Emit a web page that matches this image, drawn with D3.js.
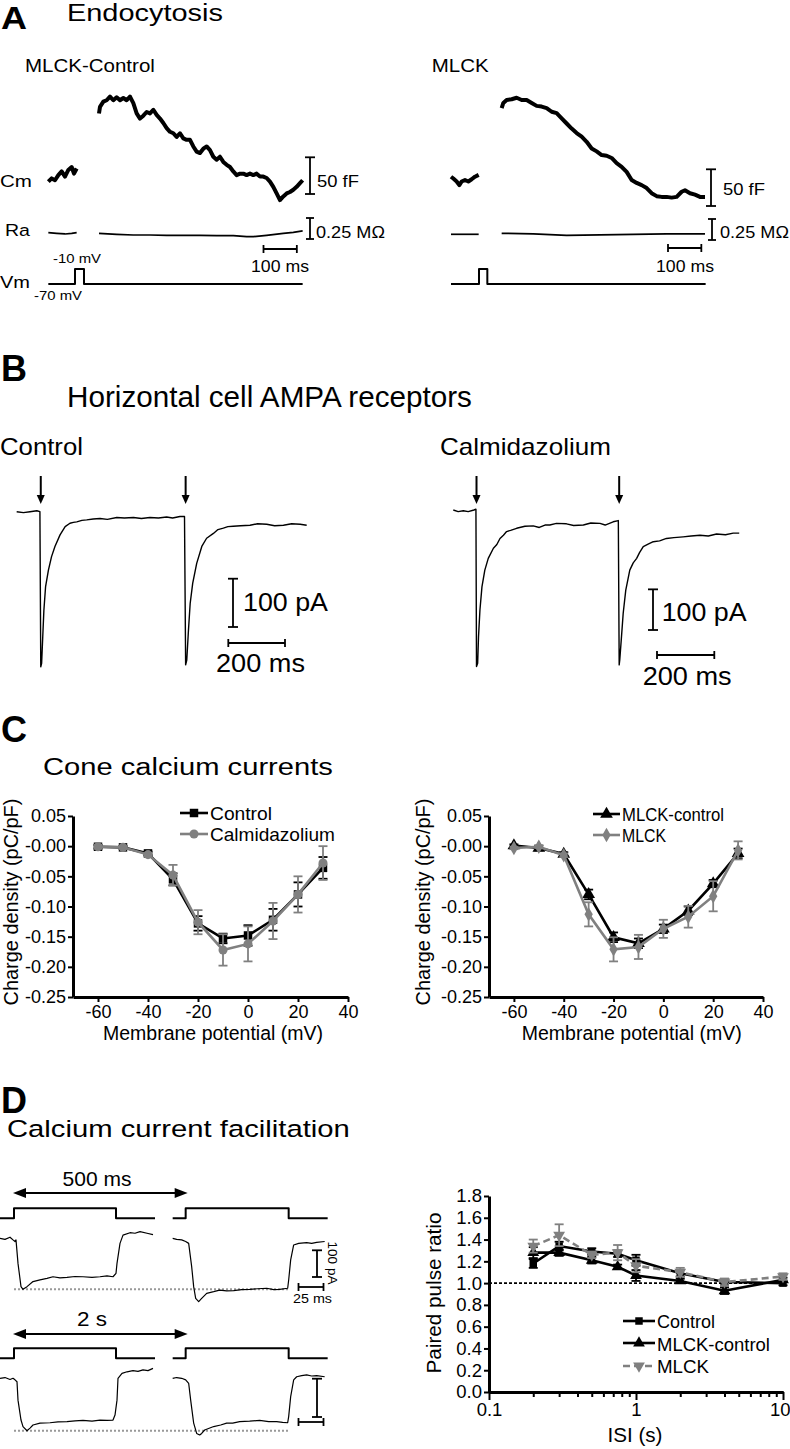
<!DOCTYPE html>
<html><head><meta charset="utf-8">
<script src="https://cdn.jsdelivr.net/npm/d3@7"></script>
<style>body{margin:0;background:#fff}svg{display:block}</style>
</head><body><svg id="fig" width="790" height="1449"></svg>
<script>
// ---------------- DATA ----------------
// Panel A: capacitance (fF), access resistance (MOhm), Vm (mV) vs time (ms)
const aCtlCmPre = [[0,0],[10,4.5],[20,2],[30,9],[40,14],[50,7],[60,16],[70,20],[77,11],[85,18]];
const aCtlCmPost = [[152,93],[155,102],[165,109],[175,111],[185,116],[195,111],[205,115],[215,111],[225,114],[235,111],[245,116],[255,107],[265,93],[275,86],[285,90],[295,95],[305,93],[315,98],[325,91],[335,86],[345,80],[355,73],[365,68],[375,66],[385,61],[395,66],[405,59],[415,57],[425,57],[435,48],[445,41],[455,39],[465,45],[475,48],[485,43],[495,34],[505,30],[515,34],[525,27],[535,23],[545,20],[555,14],[565,9],[575,11],[585,11],[595,9],[605,11],[615,9],[625,11],[635,7],[645,7],[655,5],[665,0],[675,-7],[685,-16],[695,-25],[705,-20],[715,-16],[725,-14],[735,-11],[745,-7],[755,-2],[763,2]];
const aCtlRaPre = [[0,0.008],[25,0],[50,-0.008],[70,0],[85,0.008]];
const aCtlRaPost = [[152,0],[205,-0.012],[255,-0.02],[305,-0.02],[355,-0.024],[405,-0.024],[455,-0.024],[505,-0.028],[555,-0.028],[595,-0.04],[615,-0.04],[655,-0.024],[705,0],[735,0.012],[763,0.028]];
const aCtlVm = [[0,-70],[80,-70],[80,-10],[107,-10],[107,-70],[763,-70]];
const aMlckCmPre = [[0,4.5],[7,2],[17,-2],[25,-7],[32,-2],[42,0],[52,-2],[62,1],[72,4.5],[83,7]];
const aMlckCmPost = [[152,98],[157,105],[167,109],[182,110],[197,112],[212,109],[227,109],[242,105],[257,101],[272,100],[287,98],[302,93],[317,91],[332,84],[347,77],[362,70],[377,64],[392,59],[407,52],[422,43],[437,39],[452,34],[467,33],[482,30],[497,23],[512,18],[527,11],[542,0],[557,-4],[572,-7],[587,-11],[602,-18],[617,-22],[632,-23],[647,-23],[662,-24],[677,-23],[692,-16],[702,-14],[717,-18],[732,-20],[747,-23],[762,-23]];
const aMlckRaPre = [[0,0],[83,0]];
const aMlckRaPost = [[152,0.012],[247,0.004],[347,-0.012],[447,-0.008],[547,0],[647,0.004],[762,0.004]];
const aMlckVm = [[0,-70],[84,-70],[84,-10],[109,-10],[109,-70],[764,-70]];

// Panel B: current (pA) vs time (ms)
const bControl = [[0,0],[24,-2],[47,0],[71,2],[82,0],[85,-321],[88,-314],[92,-259],[96,-204],[102,-155],[112,-121],[123,-93],[135,-72],[153,-48],[171,-31],[188,-24],[200,-22],[212,-21],[230,-18],[247,-17],[270,-15],[294,-14],[320,-16],[353,-12],[380,-13],[412,-12],[440,-14],[470,-12],[500,-13],[529,-11],[550,-13],[576,-10],[592,-10],[596,-317],[600,-307],[606,-245],[612,-190],[621,-148],[635,-107],[653,-72],[670,-55],[694,-45],[710,-37],[729,-34],[745,-31],[764,-30],[790,-29],[823,-28],[850,-25],[882,-26],[910,-29],[941,-28],[970,-25],[1000,-26],[1023,-28]];
const bCalmid = [[0,0],[17,-4],[35,-2],[52,-4],[72,0],[79,2],[81,-385],[85,-377],[88,-312],[93,-246],[100,-189],[110,-148],[122,-119],[140,-94],[152,-85],[163,-70],[175,-62],[186,-53],[200,-50],[221,-45],[250,-40],[279,-39],[300,-43],[320,-37],[337,-37],[360,-33],[395,-34],[420,-38],[454,-37],[480,-32],[512,-33],[530,-37],[558,-29],[576,-26],[579,-381],[581,-369],[587,-312],[593,-254],[602,-197],[616,-148],[628,-130],[640,-119],[650,-105],[663,-90],[680,-84],[698,-78],[720,-76],[744,-70],[770,-68],[802,-66],[830,-64],[861,-62],[890,-64],[919,-59],[950,-61],[977,-57],[998,-57]];
const bControlStim = [85, 596];
const bCalmidStim = [81, 579];

// Panel C: charge density (pC/pF) vs membrane potential (mV)
const cVoltages = [-60,-50,-40,-30,-20,-10,0,10,20,30];
const cControl = [-0.001,-0.002,-0.012,-0.055,-0.128,-0.153,-0.148,-0.122,-0.080,-0.036];
const cControlErr = [0.003,0.002,0.003,0.010,0.012,0.008,0.017,0.018,0.020,0.018];
const cCalmid = [-0.001,-0.002,-0.014,-0.048,-0.126,-0.172,-0.162,-0.124,-0.080,-0.028];
const cCalmidErr = [0.003,0.002,0.003,0.017,0.020,0.026,0.029,0.030,0.030,0.028];
const cMlckCtl = [0.001,-0.003,-0.013,-0.080,-0.151,-0.161,-0.137,-0.107,-0.062,-0.012];
const cMlckCtlErr = [0.002,0.004,0.003,0.008,0.008,0.008,0.007,0.007,0.006,0.008];
const cMlck = [-0.003,-0.001,-0.015,-0.113,-0.171,-0.167,-0.137,-0.117,-0.083,-0.007];
const cMlckErr = [0.002,0.002,0.003,0.020,0.020,0.020,0.015,0.018,0.025,0.015];
const cXTicks = [-60,-40,-20,0,20,40];
const cYTicks = [-0.25,-0.20,-0.15,-0.10,-0.05,0,0.05];
const cYTickLabels = ["-0.25","-0.20","-0.15","-0.10","-0.05","-0.00","0.05"];

// Panel D traces: current (pA) and command (mV) vs time (ms)
const d500First = [[0,0],[5,-4],[10,4],[13,-6],[15,-12],[16,-6],[18,-94],[21,-181],[23,-191],[27,-181],[33,-162],[40,-156],[47,-150],[53,-144],[60,-148],[67,-146],[75,-143],[83,-144],[92,-146],[100,-144],[107,-141],[113,-144],[116,-131],[117,-94],[120,-19],[123,12],[130,21],[135,19],[140,25],[147,19],[153,14]];
const d500Second = [[0,0],[4,-4],[9,-6],[13,-12],[16,-19],[19,-106],[21,-181],[23,-225],[26,-237],[29,-225],[34,-206],[41,-200],[47,-194],[54,-197],[61,-196],[69,-192],[77,-191],[85,-189],[94,-187],[101,-192],[107,-191],[115,-187],[116,-156],[118,-81],[121,-25],[126,-19],[134,-16],[139,-19],[144,-15],[152,-12]];
const d2sFirst = [[0,0],[5,2],[10,-3],[13,0],[15,-4],[17,-9],[18,-57],[21,-109],[23,-126],[27,-137],[30,-130],[33,-122],[40,-117],[50,-116],[58,-114],[67,-113],[75,-111],[83,-110],[92,-112],[100,-109],[107,-110],[113,-109],[115,-96],[117,-57],[118,0],[122,13],[127,17],[133,20],[138,18],[143,22],[148,20],[153,26]];
const d2sSecond = [[0,0],[4,2],[9,0],[13,-4],[16,-13],[18,-57],[21,-117],[24,-144],[27,-148],[29,-144],[32,-135],[41,-126],[48,-122],[54,-117],[60,-117],[67,-113],[77,-112],[87,-110],[96,-113],[104,-113],[110,-115],[115,-116],[116,-100],[118,-48],[121,-4],[124,4],[129,7],[134,9],[139,6],[144,7],[152,4]];
const dStepFirst = [[0,-70],[14,-70],[14,-10],[116,-10],[116,-70],[155,-70]];
const dStepSecond = [[0,-70],[13,-70],[13,-10],[116,-10],[116,-70],[155,-70]];

// Panel D plot: paired pulse ratio vs ISI (s)
const isi = [0.2,0.3,0.5,0.75,1,2,4,10];
const ppControl = [1.18,1.34,1.29,1.27,1.21,1.09,1.01,1.00];
const ppControlErr = [0.04,0.04,0.03,0.03,0.05,0.03,0.03,0.02];
const ppMlckCtl = [1.28,1.28,1.21,1.15,1.07,1.02,0.93,1.03];
const ppMlckCtlErr = [0.05,0.03,0.03,0.02,0.05,0.02,0.03,0.02];
const ppMlck = [1.34,1.44,1.26,1.28,1.16,1.10,1.01,1.06];
const ppMlckErr = [0.06,0.10,0.03,0.07,0.06,0.04,0.03,0.03];
const dXTicks = [0.1,1,10];
const dXTickLabels = ["0.1","1","10"];
const dXMinor = [0.2,0.3,0.4,0.5,0.6,0.7,0.8,0.9,2,3,4,5,6,7,8,9];
const dYTicks = [0,0.2,0.4,0.6,0.8,1.0,1.2,1.4,1.6,1.8];
const dYTickLabels = ["0.0","0.2","0.4","0.6","0.8","1.0","1.2","1.4","1.6","1.8"];

// ---------------- DRAWING ----------------
const FONT = '"Liberation Sans", Arial, Helvetica, sans-serif';
const GRAY = '#808080';
const svg = d3.select('#fig').attr('font-family', FONT);

function txt(g, x, y, s, size, o = {}) {
  const t = g.append('text').attr('font-size', size).attr('font-family', FONT)
    .attr('text-anchor', o.anchor || 'start')
    .attr('font-weight', o.bold ? 'bold' : null)
    .attr('fill', o.fill || '#000').text(s);
  let sx = 1;
  if (o.w) { const L = t.node().getComputedTextLength(); if (L > 0) sx = o.w / L; }
  t.attr('transform', `translate(${x},${y})` + (o.rot ? ` rotate(${o.rot})` : '') + ` scale(${sx},1)`);
  return t;
}
function trace(g, data, xs, ys, o = {}) {
  g.append('path').datum(data)
    .attr('d', d3.line().x(d => xs(d[0])).y(d => ys(d[1])))
    .attr('fill', 'none').attr('stroke', o.color || '#000')
    .attr('stroke-width', o.sw || 1.2).attr('stroke-linejoin', 'round')
    .attr('stroke-dasharray', o.dash || null);
}
function seg(g, x1, y1, x2, y2, sw, color) {
  return g.append('line').attr('x1', x1).attr('y1', y1).attr('x2', x2).attr('y2', y2)
    .attr('stroke', color || '#000').attr('stroke-width', sw || 1.5);
}
function vbar(g, x, yBottom, len, cap, sw) {
  seg(g, x, yBottom, x, yBottom - len, sw);
  seg(g, x - cap, yBottom, x + cap, yBottom, sw);
  seg(g, x - cap, yBottom - len, x + cap, yBottom - len, sw);
}
function hbar(g, xLeft, y, len, cap, sw) {
  seg(g, xLeft, y, xLeft + len, y, sw);
  seg(g, xLeft, y - cap, xLeft, y + cap, sw);
  seg(g, xLeft + len, y - cap, xLeft + len, y + cap, sw);
}

// ===== Panel A =====
const gA = svg.append('g');
txt(gA, 1, 29, 'A', 32, { bold: true, w: 26 });
txt(gA, 67, 21, 'Endocytosis', 24.5, { w: 156 });

function panelA(o) {
  const xs = d3.scaleLinear().domain([0, 100]).range([o.x0, o.x0 + 33.33]);
  const yCm = d3.scaleLinear().domain([0, 50]).range([o.cm0, o.cm0 - 36.7]);
  const yRa = d3.scaleLinear().domain([0, 0.25]).range([o.ra0, o.ra0 - 21]);
  const yVm = d3.scaleLinear().domain([-70, -10]).range([284, 269]);
  trace(gA, o.cmPre, xs, yCm, { sw: 4 });
  trace(gA, o.cmPost, xs, yCm, { sw: 4 });
  trace(gA, o.raPre, xs, yRa, { sw: 1.7 });
  trace(gA, o.raPost, xs, yRa, { sw: 1.7 });
  trace(gA, o.vm, xs, yVm, { sw: 2 });
  vbar(gA, o.cmBarX, o.cmBarY, yCm(0) - yCm(50), 5, 1.8);
  vbar(gA, o.raBarX, o.raBarY, yRa(0) - yRa(0.25), 4, 1.8);
  hbar(gA, o.tBarX, o.tBarY, xs(100) - xs(0), 4, 1.8);
}
panelA({ x0: 48.33, cm0: 181.7, ra0: 233.3, cmPre: aCtlCmPre, cmPost: aCtlCmPost, raPre: aCtlRaPre, raPost: aCtlRaPost, vm: aCtlVm,
  cmBarX: 310, cmBarY: 194, raBarX: 310, raBarY: 239, tBarX: 263.5, tBarY: 249 });
panelA({ x0: 451, cm0: 180, ra0: 234.3, cmPre: aMlckCmPre, cmPost: aMlckCmPost, raPre: aMlckRaPre, raPost: aMlckRaPost, vm: aMlckVm,
  cmBarX: 711, cmBarY: 206, raBarX: 712, raBarY: 240, tBarX: 668, tBarY: 248 });
txt(gA, 25, 72, 'MLCK-Control', 17.5, { w: 130 });
txt(gA, 431.7, 72, 'MLCK', 17.5, { w: 57 });
txt(gA, 0, 187, 'Cm', 17, { w: 32 });
txt(gA, 5, 236, 'Ra', 17, { w: 25 });
txt(gA, 0, 288, 'Vm', 17, { w: 30 });
txt(gA, 317, 187, '50 fF', 17, { w: 42 });
txt(gA, 723, 195, '50 fF', 17, { w: 42 });
txt(gA, 316, 238, '0.25 MΩ', 16, { w: 69 });
txt(gA, 720, 238, '0.25 MΩ', 16, { w: 69 });
txt(gA, 251, 272, '100 ms', 16, { w: 58 });
txt(gA, 656, 272, '100 ms', 16, { w: 58 });
txt(gA, 53, 263, '-10 mV', 12, { w: 48 });
txt(gA, 34, 300, '-70 mV', 12, { w: 48 });

// ===== Panel B =====
const gB = svg.append('g');
txt(gB, 1, 381, 'B', 36, { bold: true });
txt(gB, 67, 407, 'Horizontal cell AMPA receptors', 29, { w: 405 });
function panelB(o) {
  const xs = d3.scaleLinear().domain([0, 200]).range([o.x0, o.x0 + o.pxPer200]);
  const ys = d3.scaleLinear().domain([0, -100]).range([o.y0, o.y0 + o.pxPer100]);
  trace(gB, o.data, xs, ys, { sw: 1.4 });
  o.stim.forEach(t => {
    const x = xs(t);
    seg(gB, x, 476, x, 496, 2);
    gB.append('path').attr('d', `M${x - 4},495 L${x + 4},495 L${x},504 Z`).attr('fill', '#000');
  });
  vbar(gB, o.vbX, o.vbY, ys(-100) - ys(0), 5, 1.8);
  hbar(gB, o.hbX, o.hbY, xs(200) - xs(0), 4, 1.8);
}
panelB({ x0: 16.67, pxPer200: 56.7, y0: 511.7, pxPer100: 48.3, data: bControl, stim: bControlStim, vbX: 233, vbY: 627, hbX: 228.3, hbY: 643 });
panelB({ x0: 453.3, pxPer200: 57.3, y0: 510, pxPer100: 40.65, data: bCalmid, stim: bCalmidStim, vbX: 653, vbY: 630, hbX: 657, hbY: 655 });
txt(gB, 0, 455, 'Control', 23, { w: 83 });
txt(gB, 440, 455, 'Calmidazolium', 23, { w: 171 });
txt(gB, 243, 610.7, '100 pA', 26.5, { w: 85 });
txt(gB, 661.7, 620.7, '100 pA', 26.5, { w: 85 });
txt(gB, 216, 671.7, '200 ms', 26, { w: 89 });
txt(gB, 642.7, 685, '200 ms', 26, { w: 89 });

// ===== Panel C =====
const gC = svg.append('g');
txt(gC, 1, 742, 'C', 36, { bold: true });
txt(gC, 43, 775, 'Cone calcium currents', 24, { w: 290 });

function styleAxis(ax, fs) {
  ax.select('.domain').attr('stroke', '#000').attr('stroke-width', 3);
  ax.selectAll('.tick line').attr('stroke', '#000').attr('stroke-width', 2);
  ax.selectAll('.tick text').attr('font-size', fs).attr('font-family', FONT).attr('fill', '#000');
}
function markers(g, xs, ys, xv, yv, type, size, color, rot) {
  const sym = d3.symbol().type(type).size(size);
  xv.forEach((x, i) => {
    g.append('path').attr('d', sym())
      .attr('transform', `translate(${xs(x)},${ys(yv[i])})` + (rot ? ` rotate(${rot})` : ''))
      .attr('fill', color);
  });
}
function errbars(g, xs, ys, xv, yv, ev, color) {
  xv.forEach((x, i) => {
    const px = xs(x), y1 = ys(yv[i] - ev[i]), y2 = ys(yv[i] + ev[i]);
    seg(g, px, y1, px, y2, 1.8, color);
    seg(g, px - 4.5, y1, px + 4.5, y1, 1.8, color);
    seg(g, px - 4.5, y2, px + 4.5, y2, 1.8, color);
  });
}
function series(g, xs, ys, xv, yv, ev, color, sym, size, rot, dash) {
  errbars(g, xs, ys, xv, yv, ev, color);
  g.append('path').datum(xv.map((x, i) => [x, yv[i]]))
    .attr('d', d3.line().x(d => xs(d[0])).y(d => ys(d[1])))
    .attr('fill', 'none').attr('stroke', color).attr('stroke-width', 2.6)
    .attr('stroke-dasharray', dash || null);
  markers(g, xs, ys, xv, yv, sym, size, color, rot);
}
function legendItem(g, x1, x2, y, color, sym, size, rot, label, tx, ty, tw, dash) {
  seg(g, x1, y, x2, y, 2.6, color).attr('stroke-dasharray', dash || null);
  g.append('path').attr('d', d3.symbol().type(sym).size(size)())
    .attr('transform', `translate(${(x1 + x2) / 2},${y})` + (rot ? ` rotate(${rot})` : '')).attr('fill', color);
  txt(g, tx, ty, label, 18, { w: tw });
}
function panelC(o) {
  const xs = d3.scaleLinear().domain([-70, 40]).range([o.x0, o.x1]);
  const ys = d3.scaleLinear().domain([-0.25, 0.05]).range([997, 816]);
  const ax = gC.append('g').attr('transform', 'translate(0,997)')
    .call(d3.axisBottom(xs).tickValues(cXTicks).tickFormat(d => d).tickSize(5).tickSizeOuter(0).tickPadding(3));
  const ay = gC.append('g').attr('transform', `translate(${o.x0},0)`)
    .call(d3.axisLeft(ys).tickValues(cYTicks).tickFormat((d, i) => cYTickLabels[i]).tickSize(5).tickSizeOuter(0).tickPadding(2));
  styleAxis(ax, 18); styleAxis(ay, 18);
  series(gC, xs, ys, cVoltages, o.s1, o.e1, '#000', o.sym1, o.size1, 0);
  series(gC, xs, ys, cVoltages, o.s2, o.e2, GRAY, o.sym2, o.size2, 0);
  txt(gC, o.ylx, 902, 'Charge density (pC/pF)', 20, { anchor: 'middle', rot: -90, w: 207 });
  txt(gC, o.xlx, 1040, 'Membrane potential (mV)', 20, { anchor: 'middle', w: 220 });
}
panelC({ x0: 73, x1: 348, s1: cControl, e1: cControlErr, s2: cCalmid, e2: cCalmidErr,
  sym1: d3.symbolSquare, size1: 72, sym2: d3.symbolCircle, size2: 64, ylx: 18, xlx: 213 });
panelC({ x0: 489, x1: 763, s1: cMlckCtl, e1: cMlckCtlErr, s2: cMlck, e2: cMlckErr,
  sym1: d3.symbolTriangle, size1: 70, sym2: d3.symbolDiamond, size2: 60, ylx: 430, xlx: 631.7 });
legendItem(gC, 180, 208, 813, '#000', d3.symbolSquare, 72, 0, 'Control', 210, 820, 62);
legendItem(gC, 180, 208, 834, GRAY, d3.symbolCircle, 64, 0, 'Calmidazolium', 210, 841, 125);
legendItem(gC, 593, 620, 814, '#000', d3.symbolTriangle, 70, 0, 'MLCK-control', 622, 821, 102);
legendItem(gC, 593, 620, 835, GRAY, d3.symbolDiamond, 60, 0, 'MLCK', 622, 842, 44);

// ===== Panel D =====
const gD = svg.append('g');
txt(gD, 1, 1113, 'D', 36, { bold: true });
txt(gD, 7, 1137, 'Calcium current facilitation', 23.5, { w: 343 });

function dblArrow(g, x1, x2, y) {
  seg(g, x1 + 10, y, x2 - 10, y, 2);
  g.append('path').attr('d', `M${x1},${y} L${x1 + 13},${y - 5} L${x1 + 13},${y + 5} Z`).attr('fill', '#000');
  g.append('path').attr('d', `M${x2},${y} L${x2 - 13},${y - 5} L${x2 - 13},${y + 5} Z`).attr('fill', '#000');
}
function pairRow(o) {
  const xF = d3.scaleLinear().domain([0, 100]).range([0, 100]);
  const xS = d3.scaleLinear().domain([0, 100]).range([172.67, 272.67]);
  const yI = d3.scaleLinear().domain([0, -100]).range([o.i0, o.i0 + o.px100]);
  const yV = d3.scaleLinear().domain([-70, -10]).range([o.v0, o.v0 - 10]);
  trace(gD, o.stepF, xF, yV, { sw: 2 });
  trace(gD, o.stepS, xS, yV, { sw: 2 });
  const minF = d3.min(o.first, d => d[1]);
  gD.append('line').attr('x1', xF(o.stepF[1][0])).attr('x2', xS(o.stepS[3][0]))
    .attr('y1', yI(minF)).attr('y2', yI(minF))
    .attr('stroke', '#999').attr('stroke-width', 2).attr('stroke-dasharray', '2,2');
  trace(gD, o.first, xF, yI, { sw: 1.2 });
  trace(gD, o.second, xS, yI, { sw: 1.2 });
  dblArrow(gD, xF(o.stepF[1][0]) - 1, xS(o.stepS[1][0]) + 2, o.arrowY);
  txt(gD, o.labX, o.labY, o.label, 20, { anchor: 'middle', w: o.labW });
  vbar(gD, 317, o.vbY, yI(-100) - yI(0), 5, 1.8);
  hbar(gD, 298.5, o.hbY, xF(25) - xF(0), 4, 1.8);
}
pairRow({ first: d500First, second: d500Second, stepF: dStepFirst, stepS: dStepSecond,
  i0: 1238.3, px100: 26.7, v0: 1218.3, arrowY: 1193, label: '500 ms', labX: 97, labY: 1186, labW: 69, vbY: 1277, hbY: 1287 });
pairRow({ first: d2sFirst, second: d2sSecond, stepF: dStepFirst, stepS: dStepSecond,
  i0: 1378.3, px100: 38.3, v0: 1358.3, arrowY: 1334, label: '2 s', labX: 92, labY: 1326, labW: 30, vbY: 1417, hbY: 1422 });
txt(gD, 328, 1263, '100 pA', 12.5, { anchor: 'middle', rot: 90, w: 43 });
txt(gD, 293, 1303, '25 ms', 13, { w: 39 });

// Paired pulse ratio plot
const xD = d3.scaleLog().domain([0.1, 10]).range([489, 783]);
const yD = d3.scaleLinear().domain([0, 1.8]).range([1392, 1196]);
gD.append('line').attr('x1', xD(0.1)).attr('x2', xD(10)).attr('y1', yD(1)).attr('y2', yD(1))
  .attr('stroke', '#000').attr('stroke-width', 1.8).attr('stroke-dasharray', '3,2');
const axDm = gD.append('g').attr('transform', 'translate(0,1392)')
  .call(d3.axisBottom(xD).tickValues(dXMinor).tickFormat('').tickSize(5).tickSizeOuter(0));
const axD = gD.append('g').attr('transform', 'translate(0,1392)')
  .call(d3.axisBottom(xD).tickValues(dXTicks).tickFormat((d, i) => dXTickLabels[i]).tickSize(8).tickSizeOuter(0).tickPadding(3));
const ayD = gD.append('g').attr('transform', 'translate(489,0)')
  .call(d3.axisLeft(yD).tickValues(dYTicks).tickFormat((d, i) => dYTickLabels[i]).tickSize(5).tickSizeOuter(0).tickPadding(2));
styleAxis(axDm, 18); styleAxis(axD, 18.5); styleAxis(ayD, 18.5);
// keep the last x label inside the page (the reference shows it at the right edge)
axD.selectAll('.tick text').filter((d, i) => i === dXTicks.length - 1).attr('text-anchor', 'end').attr('x', 7);
series(gD, xD, yD, isi, ppControl, ppControlErr, '#000', d3.symbolSquare, 56, 0);
series(gD, xD, yD, isi, ppMlckCtl, ppMlckCtlErr, '#000', d3.symbolTriangle, 60, 0);
series(gD, xD, yD, isi, ppMlck, ppMlckErr, GRAY, d3.symbolTriangle, 60, 180, '7,4');
legendItem(gD, 623, 655, 1321, '#000', d3.symbolSquare, 56, 0, 'Control', 657, 1328, 58);
legendItem(gD, 623, 655, 1343, '#000', d3.symbolTriangle, 60, 0, 'MLCK-control', 657, 1350.5, 113);
legendItem(gD, 623, 655, 1366, GRAY, d3.symbolTriangle, 60, 180, 'MLCK', 657, 1373, 52, '7,4');
txt(gD, 441, 1293, 'Paired pulse ratio', 21, { anchor: 'middle', rot: -90, w: 161 });
txt(gD, 635, 1442, 'ISI (s)', 20, { anchor: 'middle', w: 55 });
</script>
</body></html>
